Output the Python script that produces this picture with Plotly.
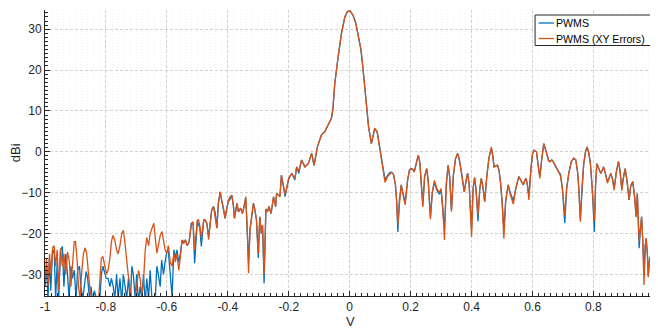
import plotly.graph_objects as go

# ---------------- data ----------------
# far-left sidelobe region, PWMS (blue)
V_LEFT_B = [-1.0, -0.995, -0.99, -0.986, -0.981, -0.976, -0.97, -0.965, -0.96, -0.955,
            -0.949, -0.943, -0.938, -0.932, -0.926, -0.921, -0.915, -0.91, -0.904, -0.898,
            -0.893, -0.887, -0.882, -0.876, -0.871, -0.865, -0.86, -0.854, -0.849, -0.843,
            -0.838, -0.832, -0.827, -0.82, -0.815, -0.81, -0.804, -0.799, -0.793, -0.787,
            -0.782, -0.776, -0.771, -0.765, -0.76, -0.754, -0.748, -0.743, -0.737, -0.732,
            -0.726, -0.72, -0.715, -0.71, -0.704, -0.699, -0.693, -0.688, -0.682, -0.677,
            -0.671, -0.666, -0.66, -0.655, -0.649, -0.644, -0.638, -0.633, -0.628, -0.622,
            -0.617, -0.611, -0.606]
DBI_LEFT_B = [-33, -28, -36, -26, -34, -25, -24, -36, -27, -36,
              -24, -23.2, -33, -25, -30, -36, -28, -31, -29, -36,
              -29, -28, -33, -36, -33, -29.3, -31, -36, -33, -37,
              -34, -36, -37, -36, -30, -28, -30, -31, -31, -33,
              -31, -33, -36, -30, -36, -31, -37, -30, -33, -36,
              -31, -37, -28, -30, -36, -30, -37, -33, -36, -30,
              -37, -31, -36, -29, -36, -37, -36, -28, -30, -33,
              -26.5, -30, -27]

# far-left sidelobe region, PWMS (XY Errors) (orange)
V_LEFT_O = [-1.0, -0.995, -0.99, -0.985, -0.98, -0.975, -0.97, -0.965, -0.96, -0.955,
            -0.949, -0.943, -0.938, -0.932, -0.926, -0.92, -0.915, -0.909, -0.904, -0.9,
            -0.895, -0.89, -0.885, -0.88, -0.874, -0.868, -0.863, -0.857, -0.852, -0.846,
            -0.84, -0.835, -0.83, -0.824, -0.82, -0.815, -0.81, -0.804, -0.798, -0.793,
            -0.787, -0.782, -0.777, -0.771, -0.765, -0.76, -0.754, -0.748, -0.743, -0.738,
            -0.732, -0.727, -0.721, -0.716, -0.71, -0.704, -0.699, -0.693, -0.688, -0.682,
            -0.677, -0.671, -0.666, -0.66, -0.655, -0.649, -0.643, -0.638, -0.633, -0.628,
            -0.622, -0.616, -0.611, -0.606]
DBI_LEFT_O = [-33, -26, -33, -25, -30, -23.5, -23, -28, -24, -34,
              -23.6, -28, -25, -30, -24.5, -27, -33, -26, -22, -22,
              -26, -33, -36, -30, -25, -23.5, -25, -30, -34, -36,
              -37, -37, -37, -36, -31, -26, -25.7, -28, -30, -29,
              -26, -22, -20.5, -21.6, -24, -25, -23, -20, -19.2, -22,
              -27, -30, -33, -36, -37, -36, -33, -29, -31, -35,
              -32, -24, -21, -23, -20, -18.5, -17.5, -21, -24.8, -23,
              -20.5, -19.5, -22, -24]

# main region, shared V positions
V_MAIN = [-0.6, -0.595, -0.589, -0.583, -0.577, -0.572, -0.567, -0.561, -0.556, -0.55,
          -0.545, -0.539, -0.533, -0.527, -0.52, -0.514, -0.509, -0.505, -0.5, -0.496,
          -0.492, -0.487, -0.483, -0.479, -0.474, -0.469, -0.463, -0.458, -0.453, -0.447,
          -0.441, -0.436, -0.431, -0.425, -0.42, -0.415, -0.409, -0.404, -0.398, -0.392,
          -0.387, -0.382, -0.378, -0.37, -0.365, -0.358, -0.352, -0.347, -0.341, -0.336,
          -0.332, -0.327, -0.322, -0.316, -0.311, -0.306, -0.3, -0.295, -0.29, -0.286,
          -0.281, -0.275, -0.27, -0.265, -0.258, -0.25, -0.243, -0.24, -0.235, -0.229,
          -0.224, -0.212, -0.2, -0.19, -0.18, -0.174, -0.167, -0.158, -0.147, -0.136,
          -0.125, -0.117, -0.106, -0.093, -0.082, -0.071, -0.06, -0.055, -0.049, -0.038,
          -0.027, -0.016, -0.008, 0.0, 0.011, 0.02, 0.027, 0.037, 0.043, 0.054,
          0.062, 0.071, 0.077, 0.082, 0.09, 0.098, 0.109, 0.116, 0.125, 0.132,
          0.138, 0.144, 0.15, 0.154, 0.158, 0.163, 0.169, 0.175, 0.182, 0.19,
          0.196, 0.201, 0.207, 0.212, 0.219, 0.225, 0.23, 0.235, 0.24, 0.246,
          0.253, 0.258, 0.265, 0.271, 0.278, 0.286, 0.294, 0.3, 0.305, 0.311,
          0.317, 0.323, 0.328, 0.334, 0.34, 0.347, 0.354, 0.36, 0.367, 0.372,
          0.376, 0.381, 0.387, 0.392, 0.4, 0.405, 0.41, 0.415, 0.421, 0.427,
          0.432, 0.438, 0.443, 0.45, 0.457, 0.465, 0.47, 0.474, 0.479, 0.485,
          0.49, 0.495, 0.5, 0.506, 0.512, 0.52, 0.527, 0.537, 0.545, 0.555,
          0.562, 0.57, 0.575, 0.579, 0.584, 0.588, 0.595, 0.6, 0.605, 0.61,
          0.613, 0.618, 0.624, 0.63, 0.637, 0.643, 0.648, 0.653, 0.657, 0.663,
          0.668, 0.673, 0.678, 0.685, 0.692, 0.698, 0.706, 0.712, 0.719, 0.727,
          0.735, 0.742, 0.748, 0.752, 0.757, 0.762, 0.768, 0.774, 0.779, 0.784,
          0.79, 0.796, 0.803, 0.807, 0.811, 0.817, 0.824, 0.829, 0.833, 0.838,
          0.846, 0.851, 0.857, 0.862, 0.868, 0.875, 0.882, 0.887, 0.893, 0.898,
          0.904, 0.91, 0.917, 0.922, 0.929, 0.935, 0.94, 0.944, 0.947, 0.95,
          0.954, 0.958, 0.962, 0.966, 0.97, 0.973, 0.977, 0.98, 0.983, 0.986,
          0.99, 0.994, 1.0]

DBI_MAIN_B = [-24.4, -24.4, -30, -35.5, -24, -26, -24, -27, -25, -21.6,
              -22, -21.6, -23, -22, -17.5, -17.5, -27.3, -22, -17, -17.9,
              -18.5, -23.2, -20, -16.7, -16.8, -17.5, -20.8, -17.5, -14.3, -13.4,
              -15, -18.7, -12.6, -9.8, -12, -13.5, -16.3, -14, -12.2, -11.5,
              -10.6, -13, -16.3, -12.6, -14.7, -13.8, -15.1, -13.5, -11.4, -19.6,
              -27, -19, -16, -12.6, -14.3, -16.7, -26, -15.9, -20, -18,
              -32.2, -14, -14.7, -13.4, -15.1, -11, -13.4, -10.2, -10.5, -11,
              -5.7, -11, -6.5, -5.3, -6.9, -3.7, -5.3, -2, -3.7, -2.9,
              -0.4, -3.3, 1.2, 4.1, 4.9, 6.5, 8.2, 10.5, 16.7, 23.2,
              29, 33, 34.2, 34.6, 33.4, 31.5, 29, 25, 20.8, 12.6,
              6.1, 2, 4.5, 5.7, 4.9, 1.2, -4.5, -6.8, -5.7, -5.1,
              -5.0, -5.6, -8, -12, -19.6, -12, -8.1, -10, -12.5, -7,
              -4.5, -4.1, -4.3, -4.9, -2.5, -0.8, -2.5, -7, -13, -6,
              -4.1, -7.5, -15.9, -10, -7.5, -9.4, -10.4, -9.4, -13, -19,
              -8, -3.3, -6, -14.3, -6, -1.8, -0.4, -2, -5, -7.5,
              -9.8, -7.5, -5.2, -8, -19, -9, -6.3, -9.5, -17, -9,
              -6.5, -9, -12.2, -6, -1.5, 0.8, -1, -3.7, -3.5, -3.3,
              -4.5, -7.5, -12, -19, -12, -8.1, -10, -12, -9, -6.1,
              -7, -8.1, -7, -6.5, -8.5, -11, -4, -0.5, 0.4, 0.2,
              0, -3, -6, -2, 2, 0.5, -1.2, -2.2, -2.4, -2,
              -2.4, -3.2, -3.7, -4.8, -5.5, -9, -17.5, -9, -5.3, -2.5,
              -1.6, -2, -5, -9, -16.5, -9, -3, 0, 1.2, 0,
              -2.9, -9, -19.6, -8, -2.9, -4, -5.3, -4.5, -3.7, -5,
              -7.3, -6.5, -5.3, -6.5, -9, -5, -2.4, -4.5, -9, -6.5,
              -4.1, -7, -11.8, -8.5, -7.3, -11, -15.9, -10.2, -15, -23.6,
              -19, -15.9, -22, -30, -23, -21.2, -25, -30.6, -27, -25.7,
              -30, -36, -34]

DBI_MAIN_O = [-24.8, -23, -27, -28, -25, -27, -25, -29, -26, -21.6,
              -22.5, -21.6, -23, -22, -18, -17.1, -24, -20, -16.7, -16.7,
              -18, -21, -19, -16.7, -16.7, -17.5, -21.5, -17.5, -14.3, -13.4,
              -16, -18.7, -12.6, -9.8, -12, -13.5, -16.3, -14, -11.8, -11,
              -10.6, -13, -16.3, -12.6, -14.7, -13.8, -15.1, -13.5, -11, -19.6,
              -29.7, -19, -16, -12.6, -14.3, -16.7, -25, -15.9, -20, -18,
              -30, -14, -14.7, -13.4, -15.1, -11, -13.4, -10.2, -10.5, -11,
              -5.7, -10.5, -6.5, -5.3, -6.5, -3.7, -4.8, -2, -3.7, -2.9,
              -0.4, -3.3, 1.2, 4.1, 4.9, 6.5, 8.2, 10.5, 16.7, 23.2,
              29, 33, 34.2, 34.6, 33.4, 31.5, 29, 25, 20.8, 12.6,
              6.1, 2, 4.5, 5.7, 4.9, 1.2, -4.5, -7.5, -6, -5.3,
              -5.0, -5.6, -8, -12, -18, -13, -8.1, -10.5, -13, -7,
              -4.5, -4.1, -4.3, -4.9, -2.5, -0.8, -2.5, -7, -13.5, -6,
              -4.1, -7.5, -16.5, -10, -7, -9, -10, -9, -13, -21.6,
              -8, -3.3, -6, -14.7, -6, -1.8, -0.4, -2, -5, -7.5,
              -9.8, -7.5, -5.2, -8, -20.8, -9, -6.3, -9.5, -15.5, -9,
              -6.5, -9, -12.2, -6, -1.5, 1.2, -1, -3.7, -3.5, -3.3,
              -4.5, -7.5, -12, -21.2, -12, -8.1, -10.5, -12.8, -9, -6.1,
              -7, -8.1, -7, -6.5, -8.5, -11.8, -4, -0.5, 0.4, 0.2,
              0, -3, -6.5, -2, 2, 0.5, -1.2, -2.2, -2.4, -2,
              -2.4, -3.2, -3.7, -4.8, -5.9, -9, -15.5, -9, -5.3, -2.5,
              -1.6, -2, -5, -9, -17.1, -9, -3, 0, 1.2, 0,
              -2.9, -9, -17, -8, -2.9, -4, -5.3, -4.5, -3.7, -5,
              -7.7, -6.5, -5.3, -6.5, -9.4, -5, -2.4, -4.5, -9.5, -6.5,
              -4.1, -7, -11.8, -8.5, -7.3, -11, -15.9, -10.2, -15, -22,
              -19, -15.9, -22, -32.6, -23, -21.2, -25, -30.6, -27, -25.7,
              -30, -36, -34]

SERIES_NAMES = ["PWMS", "PWMS (XY Errors)"]
X_TICKS = [-1, -0.8, -0.6, -0.4, -0.2, 0, 0.2, 0.4, 0.6, 0.8, 1]
X_TICK_TEXT = ["-1", "-0.8", "-0.6", "-0.4", "-0.2", "0", "0.2", "0.4", "0.6", "0.8", "1"]
Y_TICKS = [-30, -20, -10, 0, 10, 20, 30]

# ---------------- styling ----------------
BLUE = "#0072BD"
ORANGE = "#D95319"
AX = "#262626"
FONT = "Liberation Sans, Arial, Helvetica, sans-serif"
OFF = 8                      # page body margin of the html page
W, H = 658 - OFF, 328 - OFF
ML, MR, MT, MB = 45 - OFF, 0, 10 - OFF, 32
PW, PH = W - ML - MR, H - MT - MB


def px(xp):
    """reference-window pixel x -> paper x"""
    return (xp - OFF - ML) / PW


def py(yp):
    """reference-window pixel y -> paper y"""
    return (H - MB - (yp - OFF)) / PH


fig = go.Figure()
fig.add_trace(go.Scatter(x=V_LEFT_B + V_MAIN, y=DBI_LEFT_B + DBI_MAIN_B, mode="lines",
                         name=SERIES_NAMES[0], line=dict(color=BLUE, width=1.3)))
fig.add_trace(go.Scatter(x=V_LEFT_O + V_MAIN, y=DBI_LEFT_O + DBI_MAIN_O, mode="lines",
                         name=SERIES_NAMES[1], line=dict(color=ORANGE, width=1.3)))

fig.update_layout(
    width=W, height=H,
    margin=dict(l=ML, r=MR, t=MT, b=MB, pad=0),
    paper_bgcolor="white", plot_bgcolor="white",
    font=dict(family=FONT, size=12, color=AX),
    showlegend=False,
)

fig.update_xaxes(
    range=[-1, 1.002], tickvals=X_TICKS, ticktext=X_TICK_TEXT,
    ticklabeloverflow="allow",
    showline=True, linecolor=AX, linewidth=1, mirror=False,
    ticks="inside", ticklen=5, tickcolor=AX, tickwidth=1,
    tickfont=dict(size=12, color=AX),
    showgrid=True, gridcolor="#d2d2d2", gridwidth=1, griddash="3px,2px",
    zeroline=False,
    minor=dict(dtick=0.02, ticks="inside", ticklen=3, tickcolor=AX,
               showgrid=True, gridcolor="#efefef", griddash="1px,2px"),
)
fig.update_yaxes(
    range=[-35.3, 34.7], tickvals=Y_TICKS,
    showline=True, linecolor=AX, linewidth=1, mirror=False,
    ticks="inside", ticklen=5, tickcolor=AX, tickwidth=1,
    tickfont=dict(size=12, color=AX),
    showgrid=True, gridcolor="#d2d2d2", gridwidth=1, griddash="3px,2px",
    zeroline=False,
    minor=dict(dtick=1, ticks="inside", ticklen=3, tickcolor=AX,
               showgrid=False),
)

# the last x tick label sits on the window edge, half of it visible as in the reference
fig.add_annotation(text=X_TICK_TEXT[-1], xref="x", yref="paper", x=X_TICKS[-1],
                   y=py(299), showarrow=False, font=dict(size=12, color=AX),
                   xanchor="center", yanchor="top")

# axis titles
fig.add_annotation(text="dBi", xref="paper", yref="paper", x=px(15), y=py(153),
                   showarrow=False, textangle=-90, font=dict(size=13, color=AX),
                   xanchor="center", yanchor="middle")
fig.add_annotation(text="V", xref="paper", yref="paper", x=px(352), y=py(312),
                   showarrow=False, font=dict(size=13, color=AX),
                   xanchor="center", yanchor="top")

# legend box (drawn to match the reference's compact legend)
fig.add_shape(type="rect", xref="paper", yref="paper",
              x0=px(537.5), x1=px(654), y0=py(45.5), y1=py(15),
              line=dict(color=AX, width=1), fillcolor="white", layer="above")
LEG_Y = [23, 38.5]
LEG_C = [BLUE, ORANGE]
for name, yy, cc in zip(SERIES_NAMES, LEG_Y, LEG_C):
    fig.add_shape(type="line", xref="paper", yref="paper",
                  x0=px(541), x1=px(556.5), y0=py(yy), y1=py(yy),
                  line=dict(color=cc, width=1.3), layer="above")
    fig.add_annotation(text=name, xref="paper", yref="paper", x=px(556.5), y=py(yy),
                       showarrow=False, font=dict(size=10.6, color="#000000"),
                       xanchor="left", yanchor="middle")

fig.write_html("out.html")
